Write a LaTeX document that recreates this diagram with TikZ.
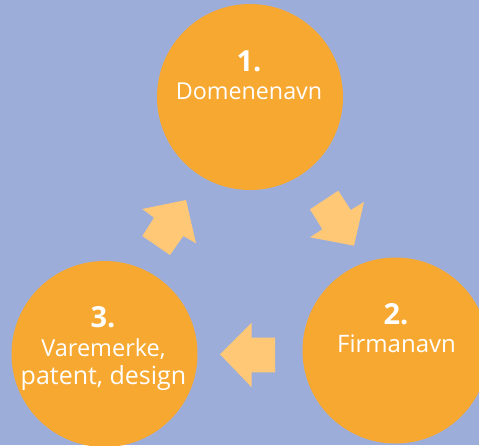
\documentclass[tikz,border=0pt]{standalone}
\usepackage{fontspec}
\setmainfont{Open Sans}
\definecolor{bgblue}{HTML}{9DADDA}
\definecolor{circorange}{HTML}{F7A830}
\definecolor{arrlight}{HTML}{FEC877}
\begin{document}
\begin{tikzpicture}[x=1pt,y=-1pt,
  circ/.style={circle,fill=circorange,minimum size=186pt,inner sep=0pt},
  numtxt/.style={text=white,font=\fontsize{29}{30}\selectfont\bfseries,inner sep=0pt,anchor=base},
  lbltxt/.style={text=white,inner sep=0pt,anchor=base,align=center},
  blockarrow/.style={fill=arrlight}]
\fill[bgblue] (0,0) rectangle (479,445);
\useasboundingbox (0,0) rectangle (479,445);
\begin{scope}
\clip (0,0) rectangle (479,445);
\node[circ] (c1) at (250,97) {};
\node[circ] (c2) at (395.5,350.5) {};
\node[circ] (c3) at (104.5,354) {};
\end{scope}
\node[numtxt] (n1) at (249,71) {1.};
\node[lbltxt,font=\fontsize{23.3}{28}\selectfont] (t1) at (249,99) {Domenenavn};
\node[numtxt] (n2) at (396,324) {2.};
\node[lbltxt,font=\fontsize{24}{28}\selectfont] (t2) at (396.5,352.5) {Firmanavn};
\node[numtxt] (n3) at (103,327) {3.};
\node[lbltxt,font=\fontsize{23.5}{28}\selectfont] (t3a) at (103.5,356.5) {Varemerke,};
\node[lbltxt,font=\fontsize{25}{28}\selectfont] (t3b) at (103.5,384) {patent, design};
% arrow 3 -> 1
\fill[blockarrow] (186,200) -- (196,243.3) -- (183.3,236) -- (170,255) -- (142.3,236) -- (154,217.7) -- (142.3,209) -- cycle;
% arrow 1 -> 2
\fill[blockarrow] (354,245.7) -- (310,237.3) -- (322.3,229.3) -- (310,209.3) -- (338.3,190.7) -- (350.7,210) -- (364,202) -- cycle;
% arrow 2 -> 3
\fill[blockarrow] (220,354.3) -- (251.7,322.7) -- (251.7,337.7) -- (275,337.7) -- (275,372.3) -- (251.7,372.3) -- (251.7,387.3) -- cycle;
\end{tikzpicture}
\end{document}
